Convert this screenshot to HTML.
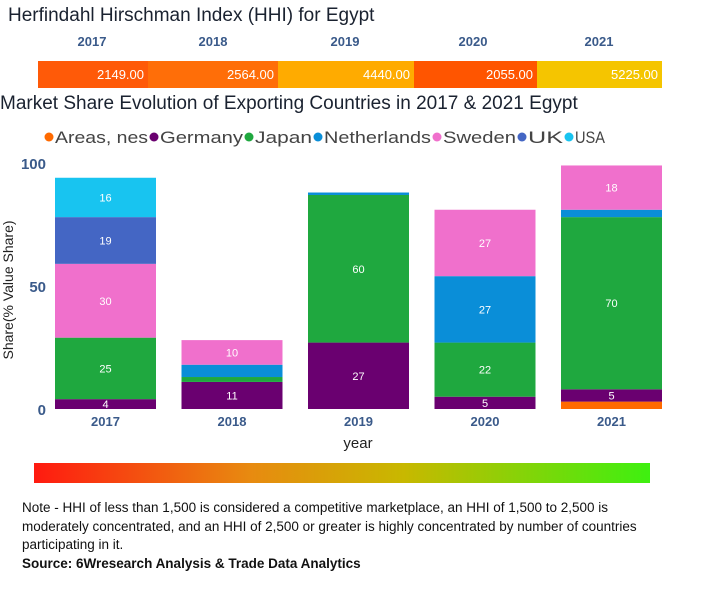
<!DOCTYPE html>
<html><head><meta charset="utf-8"><style>
body{margin:0;width:701px;height:600px;background:#fff;font-family:"Liberation Sans",sans-serif;position:relative;overflow:hidden}
.abs{position:absolute}
</style></head><body>
<div class="abs" style="left:8px;top:5px;font-size:19px;color:#1a2230">Herfindahl Hirschman Index (HHI) for Egypt</div>
<div id="hhi"></div>
<div class="abs" style="left:0;top:93px;font-size:19px;color:#1a2230">Market Share Evolution of Exporting Countries in 2017 &amp; 2021 Egypt</div>
<svg id="chart" class="abs" style="left:0;top:120px" width="701" height="340"></svg>
<div class="abs" style="left:34px;top:463px;width:616px;height:20px;background:linear-gradient(90deg,#ff1a10,#e88a10 35%,#c8b800 60%,#3ef010)"></div>
<div class="abs" style="left:22px;top:499px;width:652px;font-size:13.5px;line-height:18.5px;color:#111">Note - HHI of less than 1,500 is considered a competitive marketplace, an HHI of 1,500 to 2,500 is moderately concentrated, and an HHI of 2,500 or greater is highly concentrated by number of countries participating in it.<br><b>Source: 6Wresearch Analysis &amp; Trade Data Analytics</b></div>
<script>
const hhiYears=["2017","2018","2019","2020","2021"];
const hhiValues=[2149,2564,4440,2055,5225];
const hhiColors=["#ff5a08","#ff6e08","#ffab00","#ff5500","#f5c500"];
const hhiEdges=[38,148,278,414,537,662];
const hhi=document.getElementById('hhi');
hhiYears.forEach((y,i)=>{
 const l=document.createElement('div');l.className='abs';
 
 
 const cx=[92,213,345,473,599][i];
 l.style.cssText=`left:${cx-30}px;width:60px;text-align:center;top:34px;font-size:13px;font-weight:bold;color:#3a5a8a`;
 l.textContent=y;hhi.appendChild(l);
 const s=document.createElement('div');s.className='abs';
 
 
 s.style.cssText=`left:${hhiEdges[i]}px;width:${hhiEdges[i+1]-hhiEdges[i]}px;top:61px;height:27px;background:${hhiColors[i]};color:#fff;font-size:13px;text-align:right;line-height:27px;box-sizing:border-box;padding-right:4px`;
 s.textContent=hhiValues[i].toFixed(2);hhi.appendChild(s);
});
const years=["2017","2018","2019","2020","2021"];
const series=["Areas, nes","Germany","Japan","Netherlands","Sweden","UK","USA"];
const colors=["#ff6a00","#6a0070","#1fa83f","#0a8ed8","#f070cc","#4466c4","#18c4f0"];
const areas=[0,0,0,0,3];
const germany=[4,11,27,5,5];
const japan=[25,2,60,22,70];
const netherlands=[0,5,1,27,3];
const sweden=[30,10,0,27,18];
const uk=[19,0,0,0,0];
const usa=[16,0,0,0,0];
const yTicks=[0,50,100];
const data=[areas,germany,japan,netherlands,sweden,uk,usa];
const NS='http://www.w3.org/2000/svg',svg=document.getElementById('chart');
const OY=120;
const yS=v=>409-OY-v*2.46;
const xS=i=>55+i*126.5;const bw=101;
function mk(t,a,txt){const e=document.createElementNS(NS,t);for(const k in a)e.setAttribute(k,a[k]);if(txt!==undefined)e.textContent=txt;svg.appendChild(e);return e;}
const legendX=[49,154,249,318,437,522,569];
series.forEach((s,i)=>{
 const lx=legendX[i];
 const c=mk('circle',{cx:lx,cy:17,r:4.5,fill:colors[i]});
 
 
 const t=mk('text',{x:lx+6,y:23,'font-size':16.5,fill:'#444'},s);
 
 
 const w=(i<6?legendX[i+1]:611)-lx-12;
 t.setAttribute('textLength',w);
 t.setAttribute('lengthAdjust','spacingAndGlyphs');
});
yTicks.forEach(v=>{
 const t=mk('text',{x:46,y:yS(v)+6,'text-anchor':'end','font-size':15,'font-weight':'bold',fill:'#3a5a8a'},v);
 
 
});
const yt=mk('text',{x:0,y:0,transform:`translate(13,${yS(50)+4}) rotate(-90)`,'text-anchor':'middle','font-size':14,fill:'#222'},'Share(% Value Share)');


years.forEach((y,i)=>{
 let acc=0;
 data.forEach((arr,si)=>{
  const v=arr[i];if(!v)return;
  const r=mk('rect',{x:xS(i),y:yS(acc+v),width:bw,height:v*2.46,fill:colors[si]});
  
  
  if(v>=6||(si===1&&v>=4)){const t=mk('text',{x:xS(i)+bw/2,y:yS(acc+v/2)+4,'text-anchor':'middle','font-size':11,fill:'#fff'},v);
   
   }
  acc+=v;
 });
 const t=mk('text',{x:xS(i)+bw/2,y:306,'text-anchor':'middle','font-size':13,'font-weight':'bold',fill:'#3a5a8a'},y);
 
 
});
const xt=mk('text',{x:358,y:328,'text-anchor':'middle','font-size':15,fill:'#222'},'year');


</script>
</body></html>
